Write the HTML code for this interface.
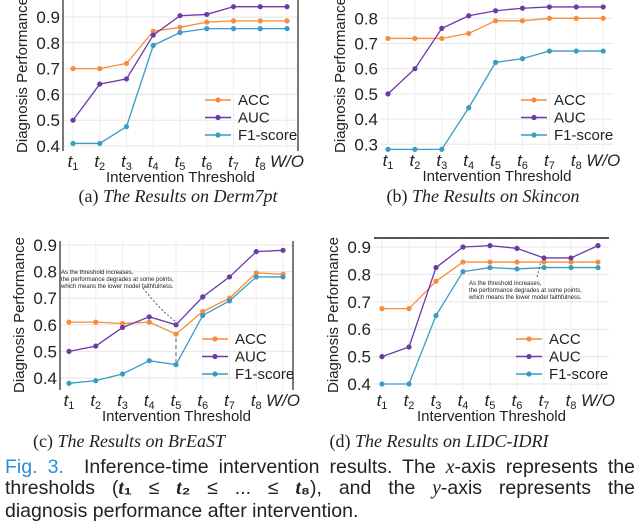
<!DOCTYPE html>
<html><head><meta charset="utf-8"><style>
body{margin:0;background:#fff;width:640px;height:510px;overflow:hidden;font-family:"Liberation Sans",sans-serif}
svg text{font-family:"Liberation Sans","DejaVu Sans",sans-serif}
.cap{position:absolute;font-family:"Liberation Serif",serif;font-size:18px;color:#222;white-space:nowrap;transform:translateX(-50%)}
.cap i{font-style:italic}
.fig{position:absolute;left:5px;width:630px;font-size:19.5px;color:#222;white-space:nowrap;font-family:"Liberation Sans",sans-serif;text-align:justify;text-align-last:justify}
.fig i{font-family:'Liberation Serif',serif}
</style></head><body>
<svg id="chart" width="640" height="510" style="position:absolute;left:0;top:0"></svg>
<div class="cap" style="left:178px;top:186px">(a) <i>The Results on Derm7pt</i></div>
<div class="cap" style="left:483px;top:186px">(b) <i>The Results on Skincon</i></div>
<div class="cap" style="left:129px;top:431px">(c) <i>The Results on BrEaST</i></div>
<div class="cap" style="left:439px;top:431px">(d) <i>The Results on LIDC-IDRI</i></div>
<div class="fig" style="top:456px"><span style="color:#2a8fd6">Fig. 3.</span>&nbsp; Inference-time intervention results. The <i>x</i>-axis represents the</div>
<div class="fig" style="top:477px">thresholds (<b><i>t</i>₁</b> ≤ <b><i>t</i>₂</b> ≤ ... ≤ <b><i>t</i>₈</b>), and the <i>y</i>-axis represents the</div>
<div class="fig" style="top:500px;text-align-last:left">diagnosis performance after intervention.</div>
<script>
const categories = ["t1","t2","t3","t4","t5","t6","t7","t8","W/O"];
const seriesNames = ["ACC","AUC","F1-score"];
const derm_acc = [0.70,0.70,0.72,0.845,0.86,0.88,0.885,0.885,0.885];
const derm_auc = [0.50,0.64,0.66,0.83,0.905,0.91,0.94,0.94,0.94];
const derm_f1 = [0.41,0.41,0.475,0.79,0.84,0.855,0.855,0.855,0.855];
const derm_ticks = [0.4,0.5,0.6,0.7,0.8,0.9];
const skin_acc = [0.72,0.72,0.72,0.74,0.79,0.79,0.80,0.80,0.80];
const skin_auc = [0.50,0.60,0.76,0.81,0.83,0.84,0.845,0.845,0.845];
const skin_f1 = [0.28,0.28,0.28,0.445,0.625,0.64,0.67,0.67,0.67];
const skin_ticks = [0.3,0.4,0.5,0.6,0.7,0.8];
const breast_acc = [0.61,0.61,0.605,0.61,0.565,0.65,0.70,0.795,0.79];
const breast_auc = [0.50,0.52,0.59,0.63,0.60,0.705,0.78,0.875,0.88];
const breast_f1 = [0.38,0.39,0.415,0.465,0.45,0.635,0.69,0.78,0.78];
const breast_ticks = [0.4,0.5,0.6,0.7,0.8,0.9];
const lidc_acc = [0.675,0.675,0.775,0.845,0.845,0.845,0.845,0.845,0.845];
const lidc_auc = [0.50,0.535,0.825,0.90,0.905,0.895,0.86,0.86,0.905];
const lidc_f1 = [0.40,0.40,0.65,0.81,0.825,0.82,0.825,0.825,0.825];
const lidc_ticks = [0.4,0.5,0.6,0.7,0.8,0.9];

const colors=["#f98c3a","#6a3aa8","#3a9cc4"];
const svg=document.getElementById('chart');
const NS="http://www.w3.org/2000/svg";
function mk(tag,attrs,parent){const e=document.createElementNS(NS,tag);for(const k in attrs)e.setAttribute(k,attrs[k]);(parent||svg).appendChild(e);return e;}

function panel(name,series,ticks,P){
  const g=mk('g',{});
  
  
  const xs=i=>P.x0+i*P.dx;
  const ys=v=>P.yA-(v-P.vA)*P.py;
  ticks.forEach(t=>{const l=mk('line',{x1:P.left,x2:P.right,y1:ys(t),y2:ys(t),stroke:'#e6e6e6','stroke-width':1},g);
    });
  categories.forEach((c,i)=>{const l=mk('line',{x1:xs(i),x2:xs(i),y1:P.top,y2:P.bottom,stroke:'#eeeeee','stroke-width':1},g);
    });
  if(P.lspine){const l=mk('line',{x1:P.left,x2:P.left,y1:P.top,y2:P.bottom,stroke:'#222','stroke-width':1.2},g);}
  if(P.rspine){const l=mk('line',{x1:P.right,x2:P.right,y1:P.top,y2:P.bottom,stroke:'#222','stroke-width':1.2},g);}
  if(P.tspine){const l=mk('line',{x1:P.left,x2:P.right,y1:P.top,y2:P.top,stroke:'#555','stroke-width':2},g);}
  ticks.forEach(t=>{const e=mk('text',{x:P.left-3,y:ys(t)+6,'text-anchor':'end','font-size':17,fill:'#222'},g);e.textContent=t.toFixed(1);
    });
  categories.forEach((c,i)=>{const e=mk('text',{x:xs(i),y:P.bottom+16,'text-anchor':'middle','font-size':17,fill:'#222','font-style':'italic'},g);
    if(c==='W/O'){e.textContent='W/O';}else{e.textContent='t';const s=mk('tspan',{'font-size':11,dy:3,'font-style':'normal'},e);s.textContent=c.slice(1);}
    });
  const xt=mk('text',{x:(P.left+P.right)/2,y:P.bottom+31,'text-anchor':'middle','font-size':15,fill:'#222'},g);xt.textContent='Intervention Threshold';
  
  const yt=mk('text',{x:0,y:0,'text-anchor':'middle','font-size':15,fill:'#222',transform:`translate(${P.left-36},${P.ytY}) rotate(-90)`},g);yt.textContent='Diagnosis Performance';
  
  series.forEach((vals,si)=>{
    const pl=mk('polyline',{points:vals.map((v,i)=>xs(i)+','+ys(v)).join(' '),fill:'none',stroke:colors[si],'stroke-width':1.3},g);
    
    vals.forEach((v,i)=>{const c=mk('circle',{cx:xs(i),cy:ys(v),r:2.6,fill:colors[si]},g);
      });
  });
  seriesNames.forEach((n,si)=>{const y=P.legY+si*17.5;
    const l=mk('line',{x1:P.legX,x2:P.legX+26,y1:y,y2:y,stroke:colors[si],'stroke-width':1.5},g);
    
    const c=mk('circle',{cx:P.legX+13,cy:y,r:2.6,fill:colors[si]},g);
    
    const t=mk('text',{x:P.legX+33,y:y+5,'font-size':15,fill:'#222'},g);t.textContent=n;
    });
  return {g,xs,ys};
}

panel('chart-derm7pt',[derm_acc,derm_auc,derm_f1],derm_ticks,
 {x0:73,dx:26.75,yA:146,vA:0.4,py:258,left:63,right:298,top:0,bottom:151,lspine:true,rspine:true,legX:205,legY:100,ytY:75});
panel('chart-skincon',[skin_acc,skin_auc,skin_f1],skin_ticks,
 {x0:388,dx:26.9,yA:144.3,vA:0.3,py:252,left:381,right:613,top:0,bottom:150,lspine:false,rspine:false,legX:521,legY:100,ytY:75});
const pc=panel('chart-breast',[breast_acc,breast_auc,breast_f1],breast_ticks,
 {x0:69,dx:26.75,yA:378,vA:0.4,py:266,left:60,right:293,top:241,bottom:390,lspine:true,rspine:true,legX:202,legY:339,ytY:315});
const pd=panel('chart-lidc',[lidc_acc,lidc_auc,lidc_f1],lidc_ticks,
 {x0:382,dx:27,yA:384,vA:0.4,py:274,left:374,right:609,top:238,bottom:390,lspine:false,rspine:false,tspine:true,legX:516,legY:339,ytY:315});

function note(lines,x,y,name){lines.forEach((s,i)=>{const t=mk('text',{x:x,y:y+i*7,'font-size':6,fill:'#222'});t.textContent=s;
  });}
note(['As the threshold increases,','the performance degrades at some points,','which means the lower model faithfulness.'],61,274,'annotation-breast');
const a1=mk('path',{d:`M143,288 Q160,310 ${pc.xs(4)},${pc.ys(0.60)-3}`,fill:'none',stroke:'#333','stroke-width':0.8,'stroke-dasharray':'2,2'});

const a2=mk('line',{x1:pc.xs(4),x2:pc.xs(4),y1:pc.ys(0.565)+4,y2:pc.ys(0.45)-3,stroke:'#333','stroke-width':0.8,'stroke-dasharray':'4,3'});

note(['As the threshold increases,','the performance degrades at some points,','which means the lower model faithfulness.'],469,285,'annotation-lidc');
const a3=mk('line',{x1:537,x2:pd.xs(6)-3,y1:277,y2:pd.ys(0.86)+3,stroke:'#333','stroke-width':0.8,'stroke-dasharray':'2,2'});

</script>
</body></html>
